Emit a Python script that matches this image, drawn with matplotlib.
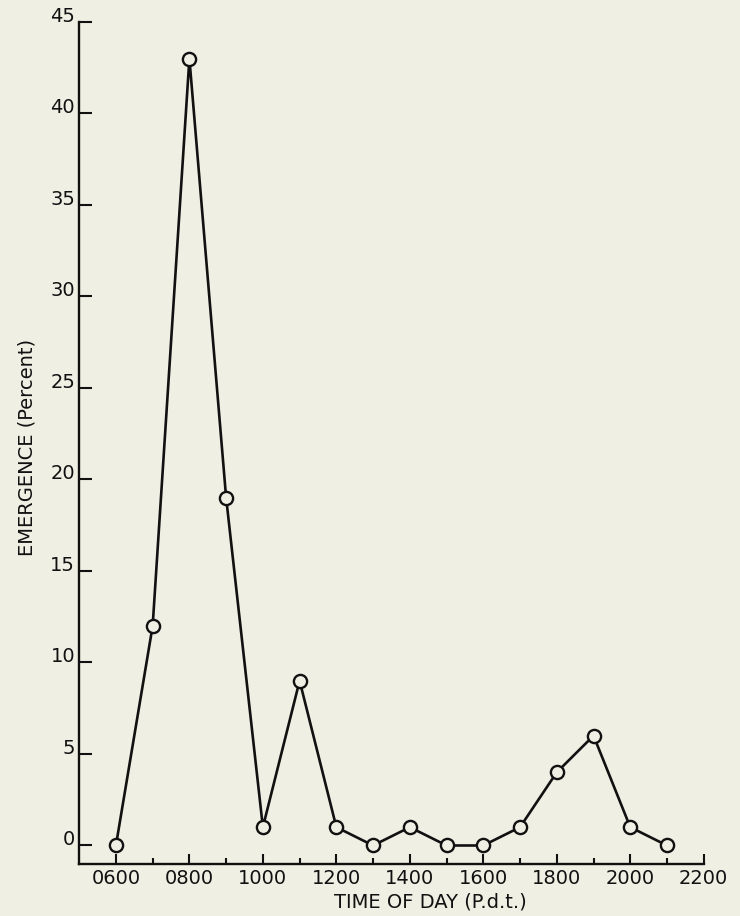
import matplotlib
matplotlib.use("Agg")
import matplotlib.pyplot as plt

# emergence by hour of day
hours = [600, 700, 800, 900, 1000, 1100, 1200, 1300, 1400, 1500, 1600, 1700, 1800, 1900, 2000, 2100]
emergence = [0, 12, 43, 19, 1, 9, 1, 0, 1, 0, 0, 1, 4, 6, 1, 0]

x_ticks = [600, 800, 1000, 1200, 1400, 1600, 1800, 2000, 2200]
x_labels = ["0600", "0800", "1000", "1200", "1400", "1600", "1800", "2000", "2200"]
x_minor = [700, 900, 1100, 1300, 1500, 1700, 1900, 2100]
y_ticks = [0, 5, 10, 15, 20, 25, 30, 35, 40, 45]

bg = "#efefe4"
ink = "#111111"
plt.rcParams["font.family"] = ["DejaVu Sans"]

fig = plt.figure(figsize=(7.4, 9.16), dpi=100, facecolor=bg)
ax = fig.add_axes([0.107, 0.057, 0.844, 0.919])
ax.set_facecolor(bg)

ax.plot(hours, emergence, color=ink, lw=1.9, marker="o", ms=9.5,
        mfc=bg, mec=ink, mew=1.7, zorder=3)

ax.set_xlim(500, 2200)
ax.set_ylim(-1.0, 45)
ax.set_xticks(x_ticks)
ax.set_xticklabels(x_labels)
ax.set_xticks(x_minor, minor=True)
ax.set_yticks(y_ticks)

for s in ["top", "right"]:
    ax.spines[s].set_visible(False)
for s in ["left", "bottom"]:
    ax.spines[s].set_linewidth(1.7)
    ax.spines[s].set_color(ink)

ax.tick_params(axis="x", which="major", direction="in", length=7, width=1.5,
               labelsize=14, pad=4, colors=ink)
ax.tick_params(axis="x", which="minor", direction="in", length=4, width=1.5,
               colors=ink)
ax.tick_params(axis="y", which="major", direction="in", length=9, width=1.5,
               labelsize=14, pad=3, colors=ink)
for lab in ax.get_yticklabels():
    lab.set_verticalalignment("baseline")

ax.set_xlabel("TIME OF DAY (P.d.t.)", fontsize=14, color=ink, va="center")
ax.xaxis.set_label_coords(0.562, -0.045)
ax.set_ylabel("EMERGENCE (Percent)", fontsize=14, color=ink, va="center")
ax.yaxis.set_label_coords(-0.083, 0.494)

fig.savefig("out.png", dpi=100, facecolor=bg)
